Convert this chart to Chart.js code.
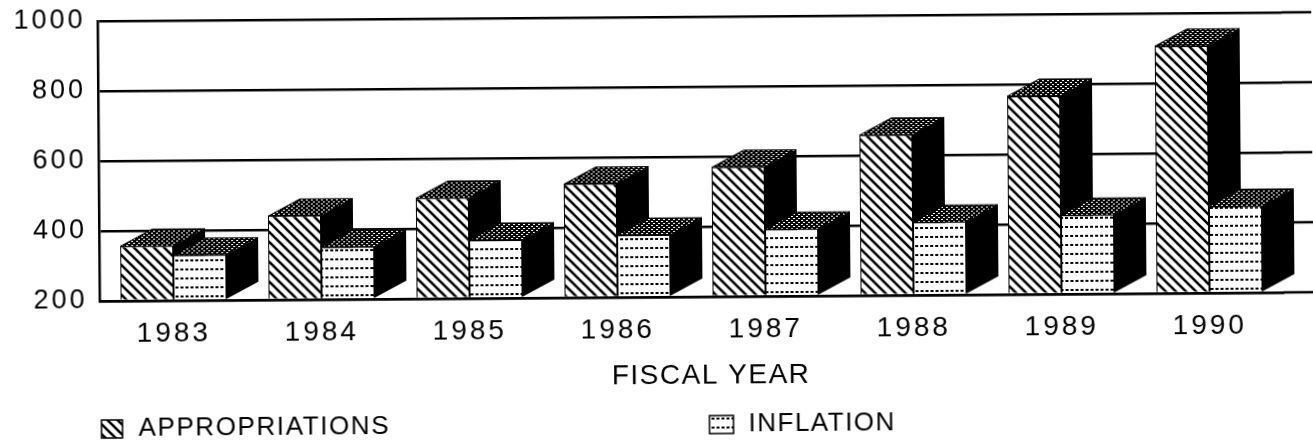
<!DOCTYPE html>
<html>
<head>
<meta charset="utf-8">
<script src="https://cdn.jsdelivr.net/npm/chart.js@4"></script>
<style>
  html, body { margin: 0; background: #fff; overflow: hidden; }
  #wrap { width: 1313px; height: 440px; transform: rotate(-0.42deg); }
</style>
</head>
<body>
<div id="wrap"><canvas id="myChart" width="1313" height="440"></canvas></div>
<script>
var years = ["1983", "1984", "1985", "1986", "1987", "1988", "1989", "1990"];
var appropriations = [356, 439, 487, 524, 569, 658, 766, 906];
var inflation = [329, 349, 366, 377, 391, 408, 425, 447];
var yTicks = [200, 400, 600, 800, 1000];
var seriesNames = ["APPROPRIATIONS", "INFLATION"];
var axisTitle = "FISCAL YEAR";

function tile(w, h, paint) {
  var c = document.createElement("canvas");
  c.width = w;
  c.height = h;
  var g = c.getContext("2d");
  g.fillStyle = "#fff";
  g.fillRect(0, 0, w, h);
  g.fillStyle = "#000";
  g.strokeStyle = "#000";
  paint(g);
  return document.createElement("canvas").getContext("2d").createPattern(c, "repeat");
}

var hatch = tile(10, 10, function (g) {
  g.lineWidth = 2.6;
  g.beginPath();
  g.moveTo(-5, -5); g.lineTo(15, 15);
  g.moveTo(-5, 5); g.lineTo(5, 15);
  g.moveTo(5, -5); g.lineTo(15, 5);
  g.stroke();
});
var dashes = tile(5, 9, function (g) {
  g.fillRect(0, 4, 3, 2);
});
var dotted = tile(5, 4, function (g) {
  g.fillRect(0, 0, 5, 4);
  g.fillStyle = "#fff";
  g.fillRect(1, 1, 2, 1);
  g.fillRect(3, 3, 2, 1);
});

// top and side faces of the bars, drawn before the front faces
var depth = { x: 32, y: -17 };
var boxes = {
  id: "boxes",
  beforeDatasetsDraw: function (chart) {
    var ctx = chart.ctx;
    var yScale = chart.scales.y;
    var area = chart.chartArea;
    ctx.save();
    ctx.strokeStyle = "#000";
    ctx.lineWidth = 2.5;
    yTicks.forEach(function (t) {
      var py = yScale.getPixelForValue(t);
      ctx.beginPath();
      ctx.moveTo(area.right, py);
      ctx.lineTo(chart.width + 10, py);
      ctx.stroke();
    });
    ctx.lineWidth = 1;
    [0, 1].forEach(function (d) {
      chart.getDatasetMeta(d).data.forEach(function (bar) {
        var l = bar.x - bar.width / 2, r = bar.x + bar.width / 2;
        ctx.fillStyle = dotted;
        ctx.beginPath();
        ctx.moveTo(l, bar.y);
        ctx.lineTo(l + depth.x, bar.y + depth.y);
        ctx.lineTo(r + depth.x, bar.y + depth.y);
        ctx.lineTo(r, bar.y);
        ctx.closePath();
        ctx.fill();
        ctx.stroke();
        ctx.fillStyle = "#000";
        ctx.beginPath();
        ctx.moveTo(r, bar.y);
        ctx.lineTo(r + depth.x, bar.y + depth.y);
        ctx.lineTo(r + depth.x, bar.base + depth.y);
        ctx.lineTo(r, bar.base);
        ctx.closePath();
        ctx.fill();
      });
    });
    ctx.restore();
  }
};

// wide tracking on the axis text, as in the original
var tracking = {
  id: "tracking",
  beforeDraw: function (chart) { chart.ctx.letterSpacing = "3px"; }
};

var legendAt = [
  { box: 100, boxW: 21, text: 137, spacing: "1.6px" },
  { box: 708, boxW: 24, text: 747, spacing: "1.5px" }
];
var bottomText = {
  id: "bottomText",
  afterDraw: function (chart) {
    var ctx = chart.ctx;
    ctx.save();
    ctx.textBaseline = "middle";
    ctx.fillStyle = "#000";
    ctx.font = "28px 'Liberation Sans'";
    ctx.textAlign = "center";
    ctx.letterSpacing = "1.5px";
    ctx.fillText(axisTitle, 710, 376);
    ctx.font = "26px 'Liberation Sans'";
    ctx.textAlign = "left";
    seriesNames.forEach(function (name, i) {
      var p = legendAt[i];
      ctx.fillStyle = i === 0 ? hatch : dashes;
      ctx.fillRect(p.box, 416, p.boxW, 18);
      ctx.strokeStyle = "#000";
      ctx.lineWidth = 1.5;
      ctx.strokeRect(p.box, 416, p.boxW, 18);
      ctx.fillStyle = "#000";
      ctx.letterSpacing = p.spacing;
      ctx.fillText(name, p.text, 425);
    });
    ctx.restore();
  }
};

new Chart("myChart", {
  type: "bar",
  data: {
    labels: years,
    datasets: [
      { label: seriesNames[0], data: appropriations, base: 200, backgroundColor: hatch, borderColor: "#000", borderWidth: 1 },
      { label: seriesNames[1], data: inflation, base: 200, backgroundColor: dashes, borderColor: "#000", borderWidth: 1 }
    ]
  },
  options: {
    responsive: false,
    animation: false,
    categoryPercentage: 0.716,
    barPercentage: 1,
    layout: { padding: { top: 17, right: 30, left: 0, bottom: 50 } },
    plugins: {
      legend: { display: false },
      tooltip: { enabled: false }
    },
    scales: {
      x: {
        grid: { display: false },
        border: { color: "#000", width: 2.5 },
        afterFit: function (s) { s.height = 93; s.paddingLeft = 0; s.paddingRight = 0; },
        ticks: { color: "#000", font: { family: "Liberation Sans", size: 28 }, padding: 8, maxRotation: 0 }
      },
      y: {
        min: 200,
        max: 1000,
        afterFit: function (s) { s.width = 99; s.paddingTop = 0; s.paddingBottom = 0; },
        afterBuildTicks: function (s) {
          s.ticks = yTicks.map(function (v) { return { value: v }; });
        },
        grid: { color: "#000", lineWidth: 2.5, drawTicks: false },
        border: { color: "#000", width: 2.5 },
        ticks: {
          color: "#000",
          font: { family: "Liberation Sans", size: 27 },
          padding: 12,
          callback: function (v) { return String(v); }
        }
      }
    }
  },
  plugins: [tracking, boxes, bottomText]
});
</script>
</body>
</html>
